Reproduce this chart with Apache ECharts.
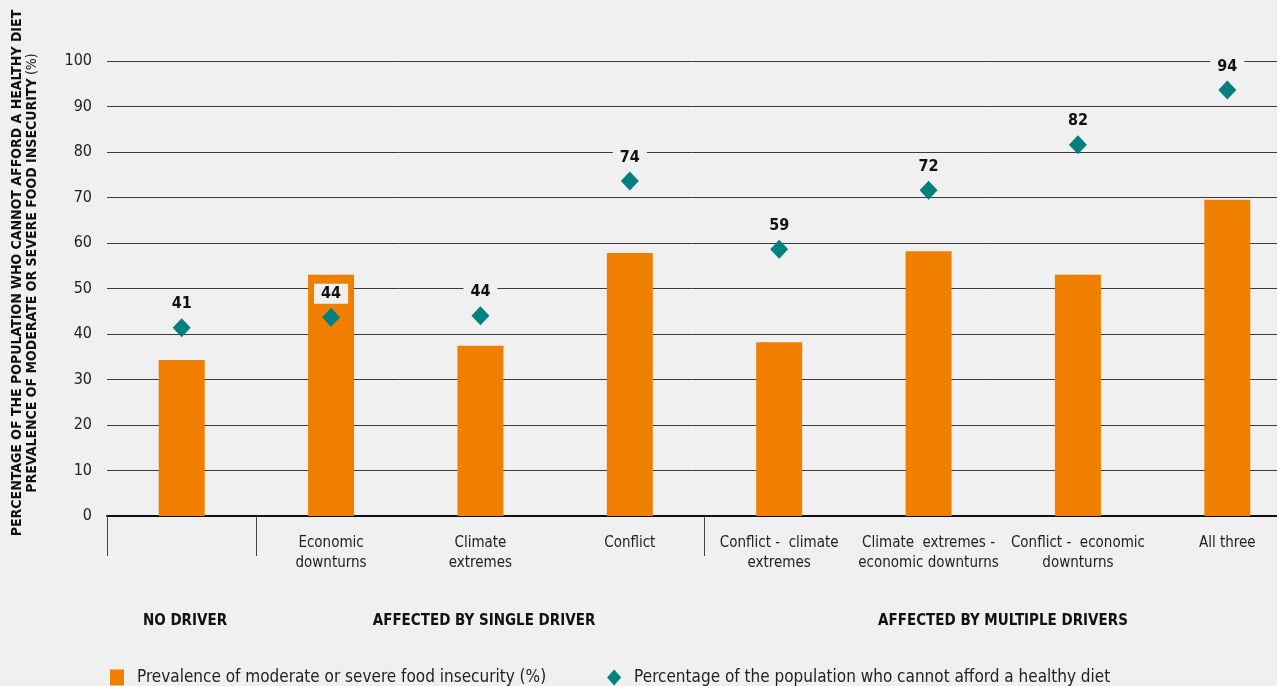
<!DOCTYPE html>
<html>
<head>
<meta charset="utf-8">
<script src="https://cdn.jsdelivr.net/npm/echarts@6/dist/echarts.min.js"></script>
<style>
  html, body { margin: 0; padding: 0; background: #f0f0f0; }
  #chart { width: 1277px; height: 686px; }
</style>
</head>
<body>
<div id="chart"></div>
<script>
const FONT = "'Liberation Sans Narrow', 'DejaVu Sans Condensed', Roboto, sans-serif"

const categories = [
  '',
  'Economic\ndownturns',
  'Climate\nextremes',
  'Conflict',
  'Conflict -  climate\nextremes',
  'Climate  extremes -\neconomic downturns',
  'Conflict -  economic\ndownturns',
  'All three',
]
const foodInsecurity = [34.3, 53.0, 37.4, 57.8, 38.2, 58.2, 53.0, 69.5]
const cannotAffordDiet = [41.4, 43.7, 44.0, 73.6, 58.6, 71.6, 81.6, 93.6]
const groupLabels = ['NO DRIVER', 'AFFECTED BY SINGLE DRIVER', 'AFFECTED BY MULTIPLE DRIVERS']
const groupCenters = [185, 484, 1003]
const groupStartIndex = [0, 1, 4]
const yTicks = { min: 0, max: 100, interval: 10 }

const ORANGE = '#f07f00'
const TEAL = '#00807f'
const BG = '#f0f0f0'

const chart = echarts.init(document.getElementById('chart'))

const groupText = groupLabels.map((label, i) => ({
  type: 'text',
  x: groupCenters[i],
  y: 621,
  style: {
    text: label,
    align: 'center',
    verticalAlign: 'middle',
    font: `bold 15px ${FONT}`,
    fill: '#111',
  },
}))

chart.setOption({
  backgroundColor: BG,
  textStyle: { fontFamily: FONT },
  // plot area runs past the right edge of the window, as in the original
  grid: { left: 107, width: 1195, top: 61, bottom: 170, outerBoundsMode: 'none' },
  legend: {
    left: 110,
    top: 669,
    padding: 0,
    itemWidth: 14,
    itemHeight: 16,
    itemGap: 61,
    textStyle: { fontSize: 17, color: '#222', fontFamily: FONT, padding: [0, 0, 0, 8] },
    data: [
      { name: 'Prevalence of moderate or severe food insecurity (%)', icon: 'rect' },
      { name: 'Percentage of the population who cannot afford a healthy diet', icon: 'diamond' },
    ],
  },
  xAxis: {
    type: 'category',
    data: categories,
    boundaryGap: true,
    axisLine: { lineStyle: { color: '#111', width: 2 } },
    axisTick: {
      show: true,
      length: 40,
      interval: (index) => groupStartIndex.includes(index),
      lineStyle: { color: '#444', width: 1 },
    },
    axisLabel: {
      interval: 0,
      margin: 17,
      fontSize: 15,
      lineHeight: 20,
      color: '#222',
      fontFamily: FONT,
    },
  },
  yAxis: {
    type: 'value',
    min: yTicks.min,
    max: yTicks.max,
    interval: yTicks.interval,
    axisLine: { show: false },
    axisTick: { show: false },
    axisLabel: { fontSize: 16, color: '#222', margin: 15, fontFamily: FONT },
    splitLine: { lineStyle: { color: '#3a3a3a', width: 1 } },
  },
  graphic: [
    {
      type: 'text',
      x: 25,
      y: 273,
      rotation: Math.PI / 2,
      style: {
        text: '{b|PERCENTAGE OF THE POPULATION WHO CANNOT AFFORD A HEALTHY DIET}\n{b|PREVALENCE OF MODERATE OR SEVERE FOOD INSECURITY} {n|(%)}',
        align: 'center',
        verticalAlign: 'middle',
        rich: {
          b: { font: `bold 14px ${FONT}`, fill: '#111', lineHeight: 15 },
          n: { font: `14px ${FONT}`, fill: '#111', lineHeight: 15 },
        },
      },
    },
    ...groupText,
  ],
  series: [
    {
      name: 'Prevalence of moderate or severe food insecurity (%)',
      type: 'bar',
      barWidth: 46,
      data: foodInsecurity,
      itemStyle: { color: ORANGE },
    },
    {
      name: 'Percentage of the population who cannot afford a healthy diet',
      type: 'scatter',
      symbol: 'diamond',
      symbolSize: [18, 19],
      data: cannotAffordDiet,
      itemStyle: { color: TEAL, opacity: 1 },
      z: 5,
      label: {
        show: true,
        position: 'top',
        distance: 4,
        formatter: (p) => Math.round(p.value),
        fontSize: 16,
        fontWeight: 'bold',
        color: '#111',
        fontFamily: FONT,
        backgroundColor: BG,
        padding: [2, 7],
      },
    },
  ],
})
</script>
</body>
</html>
